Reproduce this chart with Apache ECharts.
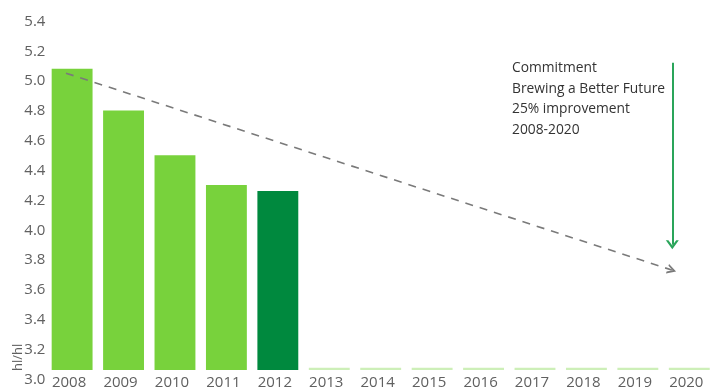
<!DOCTYPE html>
<html>
<head>
<meta charset="utf-8">
<script src="https://cdn.jsdelivr.net/npm/echarts@6/dist/echarts.min.js"></script>
<style>
  html, body { margin: 0; padding: 0; background: #fff; }
  #chart { width: 715px; height: 391px; }
</style>
</head>
<body>
<div id="chart"></div>
<script>
// Specific water consumption, hl water per hl beer
const years = ['2008', '2009', '2010', '2011', '2012', '2013', '2014',
               '2015', '2016', '2017', '2018', '2019', '2020'];
const waterUse = [5.02, 4.74, 4.44, 4.24, 4.20];
// Thin baseline strips for the years still to come
const futureStrip = [3.015, 3.015, 3.015, 3.015, 3.015, 3.015, 3.015, 3.015];

const yMin = 3.0, yMax = 5.4, yStep = 0.2;

// Dashed target path [year, hl/hl]
const trendLine = [[2007.88, 4.99], [2019.66, 3.67]];
// Vertical commitment arrow [year, hl/hl]
const commitmentArrow = [[2019.67, 5.06], [2019.67, 3.84]];
const commitmentText = ['Commitment', 'Brewing a Better Future', '25% improvement', '2008-2020'];

const actualColor = '#78d23c';
const latestColor = '#00893e';
const stripColor = '#cdefb8';
const chevronUp = 'path://M0,10 L5,0 L10,10 L8,10 L5,4 L2,10 Z';

const nActual = waterUse.length;
const barData = years.map((y, i) => i < nActual
  ? { value: waterUse[i], itemStyle: { color: i === nActual - 1 ? latestColor : actualColor } }
  : null);
const stripData = years.map((y, i) => i < nActual ? null : futureStrip[i - nActual]);

const chart = echarts.init(document.getElementById('chart'));
chart.setOption({
  animation: false,
  backgroundColor: '#fff',
  grid: { left: 46.4, top: 12, width: 679.3, height: 358 },
  xAxis: [{
    type: 'category',
    data: years,
    axisLine: { show: false },
    axisTick: { show: false },
    axisLabel: {
      color: '#606060', fontSize: 15, fontFamily: 'Open Sans', margin: 5,
      padding: [0, 6, 0, 0], interval: 0
    }
  }, {
    type: 'value',
    min: 2007.5, max: 2020.5,
    show: false
  }],
  yAxis: {
    type: 'value',
    min: yMin, max: yMax, interval: yStep,
    splitLine: { show: false },
    axisLine: { show: false },
    axisTick: { show: false },
    axisLabel: {
      color: '#606060', fontSize: 15, fontFamily: 'Open Sans', margin: 1,
      verticalAlign: 'top', lineHeight: 19,
      formatter: v => v.toFixed(1)
    }
  },
  series: [{
    type: 'bar',
    data: barData,
    barCategoryGap: '20.5%',
    barGap: '-100%',
    silent: true
  }, {
    type: 'bar',
    data: stripData,
    itemStyle: { color: stripColor },
    barCategoryGap: '20.5%',
    barGap: '-100%',
    silent: true
  }, {
    type: 'line',
    xAxisIndex: 1,
    data: [],
    silent: true,
    markLine: {
      silent: true,
      animation: false,
      label: { show: false },
      emphasis: { disabled: true },
      lineStyle: { color: '#7a7a7a', width: 1.6, type: [8, 7] },
      data: [[
        { coord: trendLine[0], symbol: 'none' },
        { coord: trendLine[1], symbol: chevronUp, symbolSize: [10, 9] }
      ]]
    }
  }, {
    type: 'line',
    xAxisIndex: 1,
    data: [],
    silent: true,
    markLine: {
      silent: true,
      animation: false,
      label: { show: false },
      emphasis: { disabled: true },
      lineStyle: { color: '#2aa55a', width: 2, type: 'solid' },
      data: [[
        { coord: commitmentArrow[0], symbol: 'none' },
        { coord: commitmentArrow[1], symbol: chevronUp, symbolSize: [13, 9] }
      ]]
    }
  }],
  graphic: [{
    type: 'text',
    left: 512, top: 58,
    style: {
      text: commitmentText.join('\n'),
      fill: '#333', fontSize: 13.8, fontFamily: 'Open Sans', lineHeight: 20.5
    }
  }, {
    type: 'text',
    x: 12, y: 371,
    rotation: Math.PI / 2,
    style: {
      text: 'hl/hl',
      fill: '#606060', fontSize: 13, fontFamily: 'Open Sans'
    }
  }]
});
</script>
</body>
</html>
